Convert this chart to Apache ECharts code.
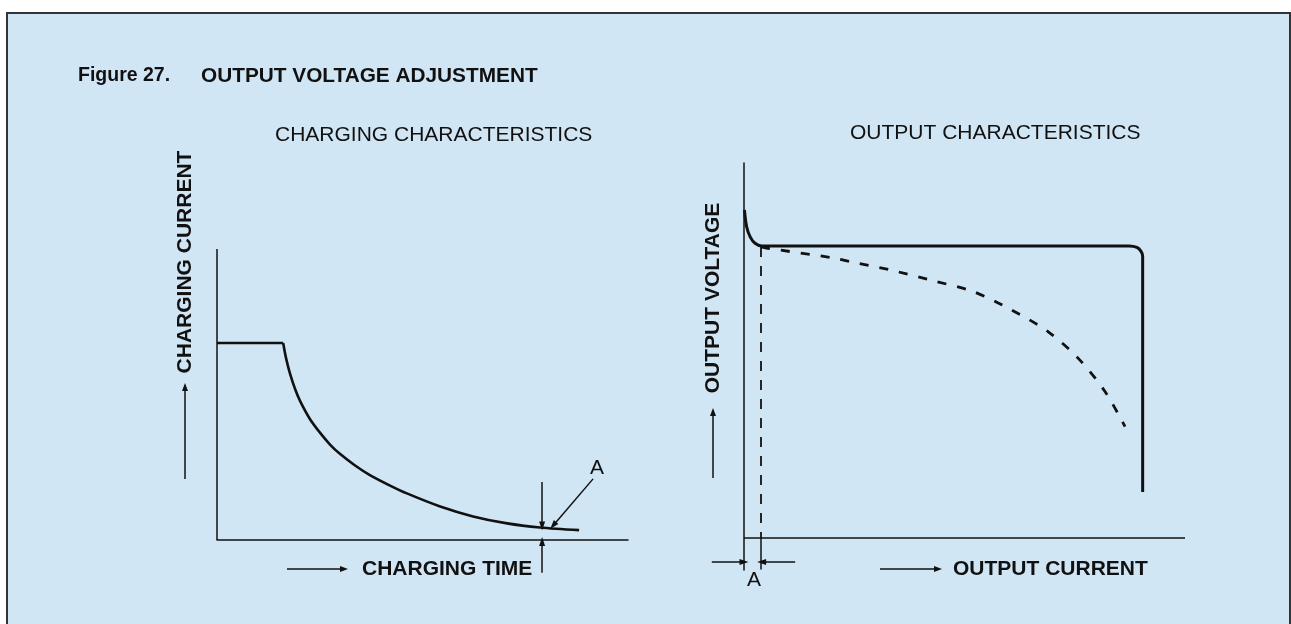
<!DOCTYPE html>
<html><head><meta charset="utf-8">
<script src="https://cdn.jsdelivr.net/npm/echarts@6/dist/echarts.min.js"></script>
<style>html,body{margin:0;padding:0;background:#fff;}#c{width:1291px;height:624px;}</style>
</head><body><div id="c"></div>
<script>
// ---- data (arbitrary units, 0-100 on each axis) ----
// Charging characteristics: constant current, then decaying current
const chargeTime    = [0, 16.1, 16.8, 17.8, 19.0, 20.2, 22.6, 25.1, 27.5, 29.9, 33.6, 37.2, 42.1, 46.2, 54.3, 62.3, 70.6, 78.6, 88.1];
const chargeCurrent = [67.7, 67.7, 62.5, 57.0, 51.9, 47.8, 41.6, 36.8, 32.8, 29.6, 25.6, 22.3, 18.7, 16.0, 11.5, 8.1, 5.7, 4.3, 3.4];
// Output characteristics: adjusted (solid) and unadjusted (dashed)
const outCurrent = [0.1, 0.6, 1.4, 2.5, 4.0, 87.3, 89.1, 90.0, 90.4, 90.4];
const outVoltage = [87.5, 83.0, 80.3, 78.6, 77.9, 77.9, 77.5, 76.5, 75.2, 12.3];
const adjCurrent = [3.9, 5.1, 20.2, 24.0, 33.1, 42.2, 52.0, 60.7, 69.0, 75.8, 81.9, 86.4];
const adjVoltage = [77.6, 77.3, 74.7, 73.7, 71.5, 68.8, 65.7, 60.8, 55.0, 47.9, 39.0, 29.7];
// "A" annotation values
const chargeA_time = 79.1;            // time where gap A is marked
const chargeA_span = [19.9, 4.8, -11.3, -0.5]; // arrow from/to above, arrow from/to below
const chargeA_pointer = [[91.5, 21.0], [81.8, 5.0]];
const outA_current = 3.9;             // offset A on output current axis
const outA_level = -6.4;
const outA_arrows = [[-7.3, 0], [11.6, 4.0]];
// texts
const titleTexts = ['Figure 27.', 'OUTPUT VOLTAGE ADJUSTMENT'];
const panelTitles = ['CHARGING CHARACTERISTICS', 'OUTPUT CHARACTERISTICS'];
const axisNames = ['CHARGING CURRENT', 'CHARGING TIME', 'OUTPUT VOLTAGE', 'OUTPUT CURRENT'];

const zip = (a, b) => a.map((v, i) => [v, b[i]]);
const INK = '#111';
const FONT = '"Liberation Sans", Arial, Helvetica, sans-serif';

const thin = {color: INK, width: 1.5, type: 'solid'};
const plain = (p, q, style) => [{coord: p, symbol: 'none'}, {coord: q, symbol: 'none', lineStyle: style || thin}];
const arrow = (p, q) => [{coord: p, symbol: 'none'}, {coord: q, symbol: 'triangle', symbolSize: [6, 9], lineStyle: thin}];

const chart = echarts.init(document.getElementById('c'), null, {renderer: 'canvas'});

const axisHidden = {axisTick: {show: false}, axisLabel: {show: false}, splitLine: {show: false}};

function txt(x, y, text, opt) {
  opt = opt || {};
  return {
    type: 'text', x: x, y: y, rotation: opt.rot || 0, z: 10, silent: true,
    style: {
      text: text, fill: INK, font: (opt.bold ? 'bold ' : '') + (opt.size || 21) + 'px ' + FONT,
      align: opt.align || 'left', verticalAlign: 'middle'
    }
  };
}
function garrow(x1, y1, x2, y2) {
  const ang = Math.atan2(y2 - y1, x2 - x1);
  const L = 8, W = 3;
  const bx = x2 - L * Math.cos(ang), by = y2 - L * Math.sin(ang);
  const px = -Math.sin(ang) * W, py = Math.cos(ang) * W;
  return [
    {type: 'line', z: 10, silent: true, shape: {x1: x1, y1: y1, x2: bx, y2: by}, style: {stroke: INK, lineWidth: 1.5}},
    {type: 'polygon', z: 10, silent: true, shape: {points: [[x2, y2], [bx + px, by + py], [bx - px, by - py]]}, style: {fill: INK}}
  ];
}

const option = {
  animation: false,
  backgroundColor: '#fff',
  grid: [
    {left: 217, right: 663, top: 249, bottom: 49.1},
    {left: 708.72, right: 106, top: 163, bottom: 54.1}
  ],
  xAxis: [
    Object.assign({type: 'value', gridIndex: 0, min: 0, max: 100,
      axisLine: {show: true, onZero: true, lineStyle: {color: INK, width: 1.5}}}, axisHidden),
    Object.assign({type: 'value', gridIndex: 1, min: -8, max: 100,
      axisLine: {show: false}}, axisHidden)
  ],
  yAxis: [
    Object.assign({type: 'value', gridIndex: 0, min: -12, max: 100,
      axisLine: {show: false}}, axisHidden),
    Object.assign({type: 'value', gridIndex: 1, min: -8.5, max: 100,
      axisLine: {show: true, onZero: true, lineStyle: {color: INK, width: 1.5}}}, axisHidden)
  ],
  series: [
    {
      name: 'Constant current', type: 'line', xAxisIndex: 0, yAxisIndex: 0,
      data: zip(chargeTime, chargeCurrent).slice(0, 2),
      symbol: 'none', lineStyle: {color: INK, width: 2.6}, silent: true
    },
    {
      name: 'Charging current', type: 'line', xAxisIndex: 0, yAxisIndex: 0,
      data: zip(chargeTime, chargeCurrent).slice(1),
      smooth: 0.3,
      symbol: 'none', lineStyle: {color: INK, width: 2.6}, silent: true,
      markLine: {
        silent: true, symbol: ['none', 'none'], label: {show: false}, emphasis: {disabled: true},
        lineStyle: thin,
        data: [
          plain([0, 0], [0, 100]),
          arrow([chargeA_time, chargeA_span[0]], [chargeA_time, chargeA_span[1]]),
          arrow([chargeA_time, chargeA_span[2]], [chargeA_time, chargeA_span[3]]),
          arrow(chargeA_pointer[0], chargeA_pointer[1])
        ]
      }
    },
    {
      name: 'Output voltage', type: 'line', xAxisIndex: 1, yAxisIndex: 1,
      data: zip(outCurrent, outVoltage),
      smooth: 0.3,
      symbol: 'none', lineStyle: {color: INK, width: 3}, silent: true,
      markLine: {
        silent: true, symbol: ['none', 'none'], label: {show: false}, emphasis: {disabled: true},
        lineStyle: thin,
        data: [
          plain([0, 0], [100, 0]),
          plain([outA_current, adjVoltage[0]], [outA_current, 0], {color: INK, width: 1.8, type: [10, 9]}),
          plain([outA_current, 0], [outA_current, -8.4]),
          arrow([outA_arrows[0][0], outA_level], [outA_arrows[0][1], outA_level]),
          arrow([outA_arrows[1][0], outA_level], [outA_arrows[1][1], outA_level])
        ]
      }
    },
    {
      name: 'Unadjusted output voltage', type: 'line', xAxisIndex: 1, yAxisIndex: 1,
      data: zip(adjCurrent, adjVoltage),
      smooth: 0.3,
      symbol: 'none', lineStyle: {color: INK, width: 2.8, type: [9, 11]}, silent: true
    }
  ],
  graphic: [
    {type: 'rect', z: -10, silent: true, shape: {x: 7, y: 13, width: 1283, height: 650},
     style: {fill: '#d1e6f4', stroke: '#333', lineWidth: 2}},
    txt(78, 76, titleTexts[0], {bold: true, size: 19.5}),
    txt(201, 76, titleTexts[1], {bold: true, size: 20.8}),
    txt(275, 135, panelTitles[0], {size: 21}),
    txt(850, 133, panelTitles[1], {size: 21}),
    txt(185, 262, axisNames[0], {bold: true, size: 21, rot: Math.PI / 2, align: 'center'}),
    txt(362, 569, axisNames[1], {bold: true, size: 21}),
    txt(713, 298, axisNames[2], {bold: true, size: 21, rot: Math.PI / 2, align: 'center'}),
    txt(953, 569, axisNames[3], {bold: true, size: 21}),
    txt(597, 468, 'A', {size: 21, align: 'center'}),
    txt(754, 580, 'A', {size: 21, align: 'center'})
  ].concat(garrow(185, 479, 185, 383), garrow(713, 478, 713, 408),
           garrow(287, 569, 348, 569), garrow(880, 569, 942, 569))
};
chart.setOption(option);
</script>
</body></html>
